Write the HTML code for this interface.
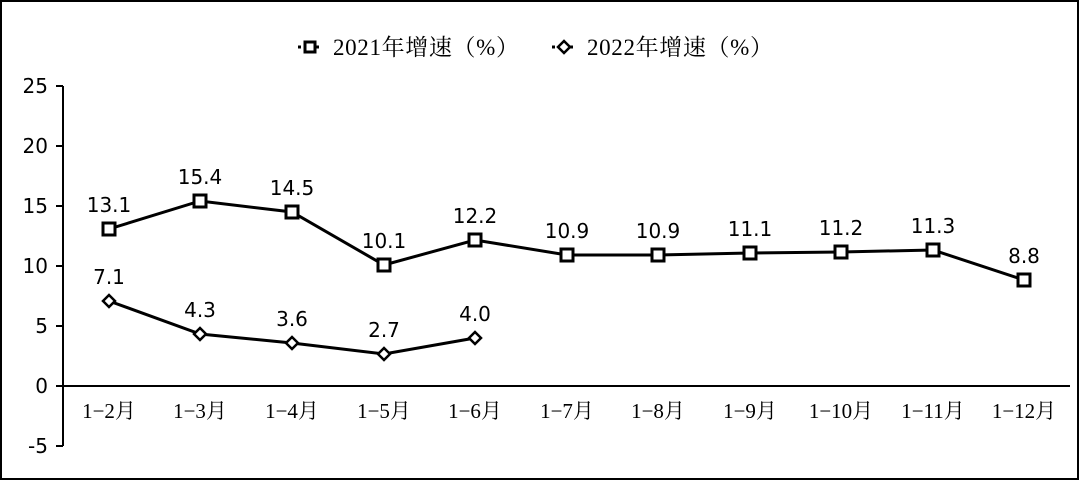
<!DOCTYPE html>
<html><head><meta charset="utf-8"><style>
body{margin:0;background:#fff}
svg{display:block}
.v{font-family:"DejaVu Sans","Liberation Sans",sans-serif;font-size:20px;fill:#000}
.c{font-family:"Liberation Serif","Noto Serif CJK SC",serif;font-size:21px;fill:#000}
</style></head><body>
<svg width="1080" height="481" viewBox="0 0 1080 481">
<rect x="1" y="1" width="1077" height="478" fill="#fff" stroke="#000" stroke-width="2"/>
<g stroke="#000" stroke-width="2">
<line x1="63" y1="86" x2="63" y2="446"/>
<line x1="56" y1="86" x2="63" y2="86"/><line x1="56" y1="146" x2="63" y2="146"/>
<line x1="56" y1="206" x2="63" y2="206"/><line x1="56" y1="266" x2="63" y2="266"/>
<line x1="56" y1="326" x2="63" y2="326"/><line x1="56" y1="386" x2="63" y2="386"/>
<line x1="56" y1="446" x2="63" y2="446"/>
<line x1="63" y1="386" x2="1070" y2="386"/>
</g>
<g class="v" text-anchor="end">
<text x="48" y="93">25</text><text x="48" y="153">20</text><text x="48" y="213">15</text>
<text x="48" y="273">10</text><text x="48" y="333">5</text><text x="48" y="393">0</text><text x="48" y="453">-5</text>
</g>
<g class="c" text-anchor="middle">
<text x="109" y="418">1−2月</text><text x="200" y="418">1−3月</text><text x="292" y="418">1−4月</text>
<text x="384" y="418">1−5月</text><text x="475" y="418">1−6月</text><text x="567" y="418">1−7月</text>
<text x="658" y="418">1−8月</text><text x="750" y="418">1−9月</text><text x="841" y="418">1−10月</text>
<text x="933" y="418">1−11月</text><text x="1024" y="418">1−12月</text>
</g>
<polyline fill="none" stroke="#000" stroke-width="3" points="109,229 200,201 292,212 384,265 475,240 567,255 658,255 750,253 841,252 933,250 1024,280"/>
<g fill="#fff" stroke="#000" stroke-width="3">
<rect x="103" y="223" width="12" height="12"/><rect x="194" y="195" width="12" height="12"/>
<rect x="286" y="206" width="12" height="12"/><rect x="378" y="259" width="12" height="12"/>
<rect x="469" y="234" width="12" height="12"/><rect x="561" y="249" width="12" height="12"/>
<rect x="652" y="249" width="12" height="12"/><rect x="744" y="247" width="12" height="12"/>
<rect x="835" y="246" width="12" height="12"/><rect x="927" y="244" width="12" height="12"/>
<rect x="1018" y="274" width="12" height="12"/>
</g>
<polyline fill="none" stroke="#000" stroke-width="3" points="109,301 200,334 292,343 384,354 475,338"/>
<g fill="#fff" stroke="#000" stroke-width="2.5">
<polygon points="109,295 115,301 109,307 103,301"/><polygon points="200,328 206,334 200,340 194,334"/>
<polygon points="292,337 298,343 292,349 286,343"/><polygon points="384,348 390,354 384,360 378,354"/>
<polygon points="475,332 481,338 475,344 469,338"/>
</g>
<g class="v" text-anchor="middle">
<text x="109" y="212">13.1</text><text x="200" y="184">15.4</text><text x="292" y="195">14.5</text>
<text x="384" y="248">10.1</text><text x="475" y="223">12.2</text><text x="567" y="238">10.9</text>
<text x="658" y="238">10.9</text><text x="750" y="236">11.1</text><text x="841" y="235">11.2</text>
<text x="933" y="233">11.3</text><text x="1024" y="263">8.8</text>
<text x="109" y="284">7.1</text><text x="200" y="317">4.3</text><text x="292" y="326">3.6</text>
<text x="384" y="337">2.7</text><text x="475" y="321">4.0</text>
</g>
<g>
<line x1="298" y1="47" x2="322" y2="47" stroke="#000" stroke-width="3" stroke-dasharray="3,3"/>
<rect x="305" y="42" width="10" height="10" fill="#fff" stroke="#000" stroke-width="3"/>
<text x="333" y="55" textLength="186" style="font-family:'Liberation Serif','Noto Serif CJK SC',serif;font-size:23px">2021年增速（%）</text>
<line x1="552" y1="47" x2="576" y2="47" stroke="#000" stroke-width="3" stroke-dasharray="3,3"/>
<polygon points="564,41 570,47 564,53 558,47" fill="#fff" stroke="#000" stroke-width="2.5"/>
<text x="587" y="55" textLength="186" style="font-family:'Liberation Serif','Noto Serif CJK SC',serif;font-size:23px">2022年增速（%）</text>
</g>
</svg>
</body></html>
